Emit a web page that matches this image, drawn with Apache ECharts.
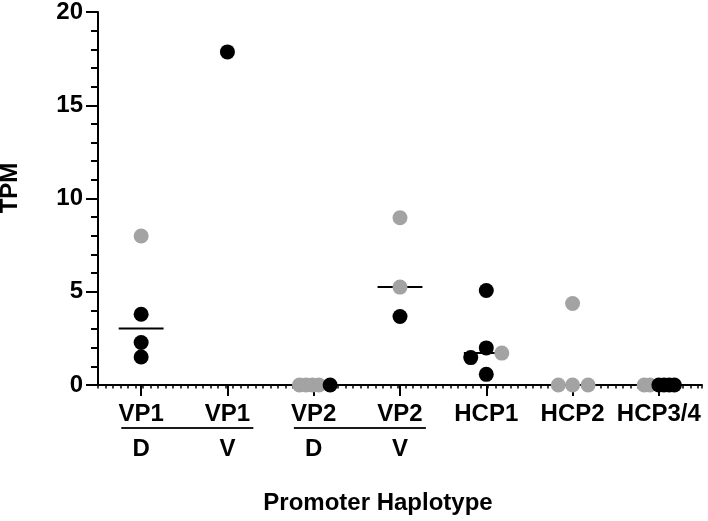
<!DOCTYPE html>
<html>
<head>
<meta charset="utf-8">
<script src="https://cdn.jsdelivr.net/npm/echarts@6/dist/echarts.min.js"></script>
<style>
html,body{margin:0;padding:0;background:#fff;}
#chart{width:708px;height:521px;}
</style>
</head>
<body>
<div id="chart"></div>
<script>
// ---- data ----
const categories = ['VP1', 'VP1', 'VP2', 'VP2', 'HCP1', 'HCP2', 'HCP3/4'];
const tissue = ['D', 'V', 'D', 'V', '', '', ''];
const groups = [[0, 1], [2, 3]];

// grey points: category index, horizontal jitter (category units), TPM
const grayCat    = [0,    2,      2,     2,      2,    3,    3,    4,    5,    5,     5,    5,    6,     6];
const grayJitter = [0,   -0.165, -0.09, -0.015,  0.06, 0,    0,    0.18, 0,   -0.165, 0,    0.18, -0.17, -0.105];
const grayTPM    = [7.99, 0,      0,     0,      0,    8.97, 5.25, 1.71, 4.37, 0,     0,    0,    0,     0];

// black points
const blackCat    = [0,    0,    0,    1,     2,    3,    4,    4,    4,     4,    6,    6,    6,    6];
const blackJitter = [0,    0,    0,    0,     0.19, 0,    0,    0,   -0.18,  0,    0,    0.06, 0.12, 0.18];
const blackTPM    = [3.79, 2.28, 1.50, 17.86, 0,    3.67, 5.07, 1.99, 1.47,  0.57, 0,    0,    0,    0];

// median lines per category (null = none drawn)
const medianTPM = [3.03, null, 0, 5.25, 1.71, 0, 0];

const yMin = 0, yMax = 20, yStep = 5;

// ---- chart ----
const FONT = "'Liberation Sans', Arial, Helvetica, sans-serif";
const GRAY = '#a3a3a3';
const BLACK = '#000000';
const HALF = 0.26;

const chart = echarts.init(document.getElementById('chart'), null, {renderer: 'canvas'});

function pts(cats, jit, vals) {
  return cats.map((c, i) => [c + 0.5 + jit[i], vals[i]]);
}

const medianSeries = [];
medianTPM.forEach((m, i) => {
  if (m === null) return;
  medianSeries.push({
    type: 'line',
    xAxisIndex: 1,
    yAxisIndex: 0,
    data: [[i + 0.5 - HALF, m], [i + 0.5 + HALF, m]],
    symbol: 'none',
    lineStyle: {color: BLACK, width: 2},
    z: 2,
    silent: true,
    animation: false
  });
});

const option = {
  animation: false,
  backgroundColor: '#ffffff',
  textStyle: {fontFamily: FONT},
  grid: {left: 98, right: 6, top: 8, bottom: 136, containLabel: false},
  xAxis: [
    {
      type: 'category',
      data: categories,
      position: 'bottom',
      boundaryGap: true,
      axisLine: {show: true, lineStyle: {color: BLACK, width: 2}},
      axisTick: {show: true, alignWithLabel: true, length: 11, lineStyle: {color: BLACK, width: 2}},
      axisLabel: {
        show: true,
        interval: 0,
        margin: 13,
        formatter: function (v, i) {
          return tissue[i] ? '{a|' + v + '}\n{b|' + tissue[i] + '}' : '{a|' + v + '}';
        },
        rich: {
          a: {fontFamily: FONT, fontSize: 24, fontWeight: 'bold', color: BLACK, lineHeight: 33},
          b: {fontFamily: FONT, fontSize: 24, fontWeight: 'bold', color: BLACK, lineHeight: 36}
        }
      },
      splitLine: {show: false},
      z: 3
    },
    {
      type: 'value',
      position: 'bottom',
      min: 0,
      max: categories.length,
      interval: 1 / 11.5,
      axisLine: {show: false},
      axisTick: {show: true, length: 3.5, lineStyle: {color: BLACK, width: 1.5}},
      axisLabel: {show: false},
      splitLine: {show: false}
    }
  ],
  yAxis: [{
    type: 'value',
    min: yMin,
    max: yMax,
    interval: yStep,
    axisLine: {show: true, lineStyle: {color: BLACK, width: 2}},
    axisTick: {show: true, length: 12, lineStyle: {color: BLACK, width: 2}},
    minorTick: {show: true, splitNumber: 5, length: 7, lineStyle: {color: BLACK, width: 2}},
    axisLabel: {fontFamily: FONT, fontSize: 24, fontWeight: 'bold', color: BLACK, margin: 15},
    splitLine: {show: false}
  }],
  series: medianSeries.concat([
    {
      type: 'scatter',
      xAxisIndex: 1,
      yAxisIndex: 0,
      data: pts(grayCat, grayJitter, grayTPM),
      symbol: 'circle',
      symbolSize: 15,
      itemStyle: {color: GRAY, opacity: 1},
      z: 4
    },
    {
      type: 'scatter',
      xAxisIndex: 1,
      yAxisIndex: 0,
      data: pts(blackCat, blackJitter, blackTPM),
      symbol: 'circle',
      symbolSize: 15,
      itemStyle: {color: BLACK, opacity: 1},
      z: 5
    }
  ])
};

chart.setOption(option);

// group underlines + titles, positioned through the axes
const y0 = chart.convertToPixel({yAxisIndex: 0}, 0);
const graphics = groups.map(g => {
  const x1 = chart.convertToPixel({xAxisIndex: 1}, g[0] + 0.5 - 0.23);
  const x2 = chart.convertToPixel({xAxisIndex: 1}, g[1] + 0.5 + 0.30);
  return {
    type: 'line',
    shape: {x1: x1, y1: y0 + 43, x2: x2, y2: y0 + 43},
    style: {stroke: '#1a1a1a', lineWidth: 2},
    silent: true
  };
});
graphics.push({
  type: 'text',
  x: 378, y: 503,
  style: {text: 'Promoter Haplotype', fontFamily: FONT, fontSize: 24, fontWeight: 'bold',
          fill: BLACK, align: 'center', verticalAlign: 'middle'},
  silent: true
});
graphics.push({
  type: 'text',
  x: 10, y: 188,
  rotation: Math.PI / 2,
  style: {text: 'TPM', fontFamily: FONT, fontSize: 24, fontWeight: 'bold',
          fill: BLACK, align: 'center', verticalAlign: 'middle'},
  silent: true
});
chart.setOption({graphic: graphics});
</script>
</body>
</html>
